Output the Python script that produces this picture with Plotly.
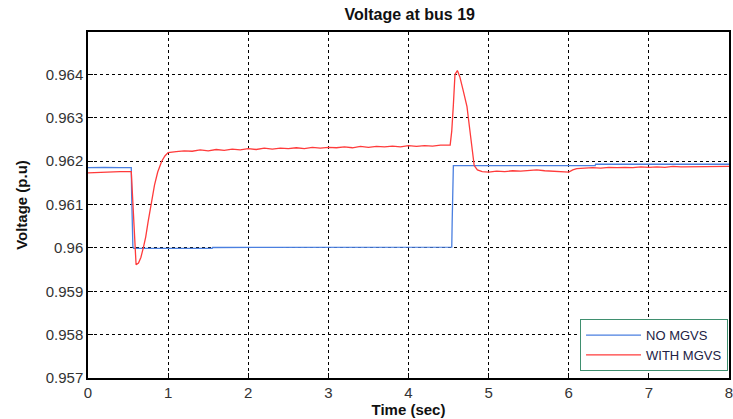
import plotly.graph_objects as go

# ---- data ----
t_no = [0, 0.2, 0.4, 0.54, 0.545, 0.55, 0.555, 0.56, 0.57, 1.55, 1.555, 4.54, 4.545, 4.56, 6.33, 6.335, 8]
v_no = [0.96185, 0.96186, 0.96185, 0.96185, 0.9612, 0.9605, 0.9603, 0.96003, 0.95999, 0.95999, 0.96001, 0.96002,
        0.9606, 0.9619, 0.9619, 0.96193, 0.96193]

t_with = [0, 0.1, 0.2, 0.3, 0.4, 0.54, 0.55, 0.57, 0.59, 0.6, 0.63, 0.66, 0.69, 0.72, 0.75, 0.79, 0.83,
          0.87, 0.92, 0.96, 1.0, 1.1, 1.2, 1.3, 1.4, 1.5, 1.6, 1.7, 1.8, 1.9, 2.0, 2.1, 2.2, 2.3, 2.4,
          2.5, 2.6, 2.7, 2.8, 2.9, 3.0, 3.1, 3.2, 3.3, 3.4, 3.5, 3.6, 3.7, 3.8, 3.9, 4.0, 4.1, 4.2,
          4.3, 4.4, 4.52, 4.54, 4.56, 4.58, 4.61, 4.64, 4.68, 4.73, 4.76, 4.79, 4.82, 4.86, 4.92,
          5.0, 5.1, 5.2, 5.3, 5.4, 5.5, 5.6, 5.7, 5.8, 5.9, 6.0, 6.05, 6.1, 6.2, 6.3, 6.4, 6.5, 6.6,
          6.7, 6.8, 6.9, 7.0, 7.1, 7.2, 7.3, 7.4, 7.5, 7.6, 7.7, 7.8, 7.9, 8.0]
v_with = [0.96173, 0.96174, 0.96175, 0.96175, 0.96176, 0.96176, 0.9614, 0.9605, 0.9597, 0.95961, 0.95965,
          0.95978, 0.96, 0.96025, 0.9606, 0.961, 0.96145, 0.96175, 0.962, 0.96212, 0.9622, 0.96222,
          0.96224, 0.96223, 0.96226, 0.96224, 0.96227, 0.96225, 0.96228, 0.96226, 0.96229, 0.96227,
          0.9623, 0.96228, 0.9623, 0.96229, 0.96231, 0.96229, 0.96232, 0.9623, 0.96232, 0.96231,
          0.96233, 0.96231, 0.96234, 0.96232, 0.96234, 0.96233, 0.96235, 0.96233, 0.96236, 0.96234,
          0.96236, 0.96235, 0.96237, 0.96237, 0.9627, 0.9633, 0.964, 0.96409, 0.96395, 0.96365,
          0.96326, 0.9628, 0.96235, 0.9619, 0.9618, 0.96176, 0.96175, 0.96177, 0.96176, 0.96178,
          0.96177, 0.96179, 0.9618, 0.96178, 0.96177, 0.96176, 0.96175, 0.9618, 0.96183, 0.96184,
          0.96185, 0.96184, 0.96186, 0.96185, 0.96186, 0.96185, 0.96187, 0.96186, 0.96187, 0.96186,
          0.96188, 0.96187, 0.96187, 0.96188, 0.96187, 0.96188, 0.96187, 0.96188]

x_ticks = [0, 1, 2, 3, 4, 5, 6, 7, 8]
y_ticks = [0.957, 0.958, 0.959, 0.96, 0.961, 0.962, 0.963, 0.964]
y_tick_labels = ["0.957", "0.958", "0.959", "0.96", "0.961", "0.962", "0.963", "0.964"]

FONT = "Arial, Liberation Sans"

fig = go.Figure()
fig.add_trace(go.Scatter(x=t_no, y=v_no, mode="lines", name="NO MGVS",
                         line=dict(color="#4a7fe0", width=1.3)))
fig.add_trace(go.Scatter(x=t_with, y=v_with, mode="lines", name="WITH MGVS",
                         line=dict(color="#ff3b3b", width=1.3)))

axis_common = dict(showline=True, linecolor="black", linewidth=1.5, mirror=True,
                   ticks="inside", ticklen=5, tickcolor="black",
                   showgrid=True, gridcolor="black", gridwidth=1, griddash="3px,3px",
                   zeroline=False, automargin=False,
                   tickfont=dict(family=FONT, size=15, color="#333333"))

fig.update_layout(
    width=733, height=419,
    margin=dict(l=88, r=4, t=32, b=41),
    paper_bgcolor="white", plot_bgcolor="white",
    title=dict(text="<b>Voltage at bus 19</b>", x=0.559, xanchor="center", y=0.966, yanchor="middle",
               font=dict(family=FONT, size=16, color="#111111")),
    xaxis=dict(range=[0, 8], tickvals=x_ticks, ticklabelstandoff=0, ticklabeloverflow="allow",
               title=dict(text="<b>Time (sec)</b>", standoff=1,
                          font=dict(family=FONT, size=15, color="#111111")),
               **axis_common),
    yaxis=dict(range=[0.957, 0.96498], tickvals=y_ticks, ticktext=y_tick_labels,
               title=dict(text="<b>Voltage (p.u)</b>", standoff=14,
                          font=dict(family=FONT, size=15, color="#111111")),
               **axis_common),
    legend=dict(x=0.9985, xanchor="right", y=0.02, yanchor="bottom",
                bgcolor="white", bordercolor="#3f8f6f", borderwidth=1,
                font=dict(family=FONT, size=13, color="#222244"),
                tracegroupgap=0, itemwidth=55),
    showlegend=True,
)

fig.write_html("out.html")
